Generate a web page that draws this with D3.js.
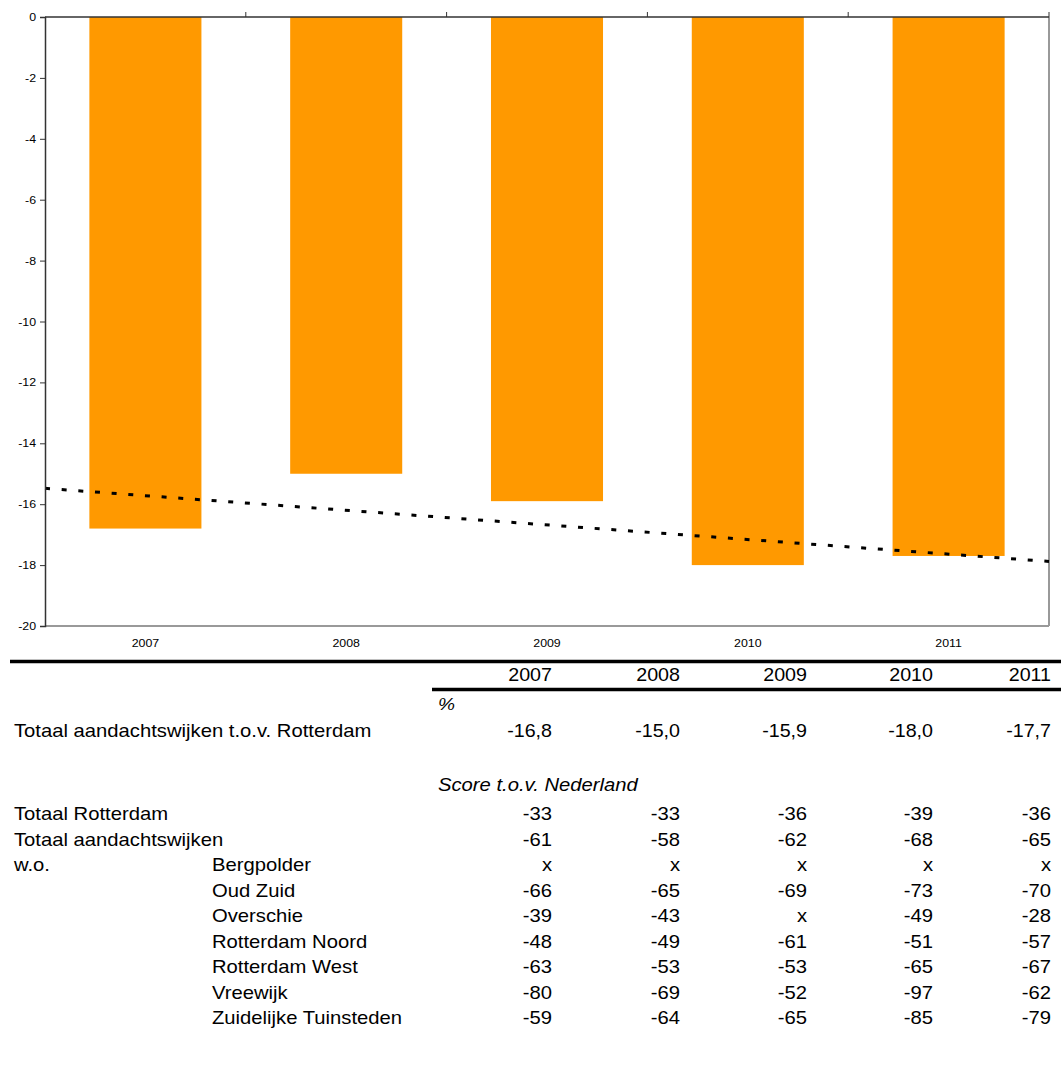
<!DOCTYPE html>
<html><head><meta charset="utf-8">
<script src="https://cdn.jsdelivr.net/npm/d3@7"></script>
<style>body{margin:0;background:#fff}svg{display:block;font-family:"Liberation Sans",Arial,sans-serif}</style>
</head><body>
<svg id="c" width="1061" height="1065"></svg>
<script>
const years = ["2007","2008","2009","2010","2011"];
const barValues = [-16.8, -15.0, -15.9, -18.0, -17.7];
const yTicks = [0,-2,-4,-6,-8,-10,-12,-14,-16,-18,-20];
const pctLabels = ["-16,8","-15,0","-15,9","-18,0","-17,7"];
const rowLabels = ["Totaal Rotterdam","Totaal aandachtswijken","Bergpolder","Oud Zuid","Overschie","Rotterdam Noord","Rotterdam West","Vreewijk","Zuidelijke Tuinsteden"];
const rowIndent = [false,false,true,true,true,true,true,true,true];
const totaalRotterdam = ["-33","-33","-36","-39","-36"];
const totaalAandacht = ["-61","-58","-62","-68","-65"];
const bergpolder = ["x","x","x","x","x"];
const oudZuid = ["-66","-65","-69","-73","-70"];
const overschie = ["-39","-43","x","-49","-28"];
const rdamNoord = ["-48","-49","-61","-51","-57"];
const rdamWest = ["-63","-53","-53","-65","-67"];
const vreewijk = ["-80","-69","-52","-97","-62"];
const zuidTuin = ["-59","-64","-65","-85","-79"];
const scoreRows = [totaalRotterdam,totaalAandacht,bergpolder,oudZuid,overschie,rdamNoord,rdamWest,vreewijk,zuidTuin];

const svg = d3.select("#c");
const L=45,R=1049,T=17,B=626;
const x = d3.scaleBand().domain(years).range([L,R]).paddingInner(0.442).paddingOuter(0.221);
const y = d3.scaleLinear().domain([0,-20]).range([T,B]);
const SX = 1.125;

function txt(g, xx, yy, s, size, anchor, italic){
  return g.append("text").attr("transform",`translate(${xx},${yy}) scale(${SX},1)`)
    .attr("text-anchor",anchor).attr("font-size",size).attr("font-style",italic?"italic":null)
    .attr("fill","#000").text(s);
}

// plot border
svg.append("line").attr("x1",L).attr("x2",R).attr("y1",B).attr("y2",B).attr("stroke","#999").attr("stroke-width",2);
svg.append("line").attr("x1",R).attr("x2",R).attr("y1",T).attr("y2",B).attr("stroke","#999").attr("stroke-width",2);

// bars
svg.selectAll("rect.bar").data(barValues).join("rect").attr("class","bar")
  .attr("x",(d,i)=>x(years[i])).attr("width",x.bandwidth())
  .attr("y",y(0)).attr("height",d=>y(d)-y(0)).attr("fill","#FF9900");

// trend line (linear least squares through bar values)
const n=barValues.length, mx=(n-1)/2, my=d3.mean(barValues);
const slope=d3.sum(barValues,(v,i)=>(i-mx)*(v-my))/d3.sum(barValues,(v,i)=>(i-mx)*(i-mx));
const xi=d3.scaleLinear().domain([-0.5,n-0.5]).range([L,R]);
const tr=[-0.5,n-0.5].map(i=>[xi(i),y(my+slope*(i-mx))]);
svg.append("path").attr("d",d3.line()(tr)).attr("stroke","#000").attr("stroke-width",3)
  .attr("stroke-dasharray","5,11.7").attr("fill","none");

// y axis
const ya = svg.append("g").attr("transform",`translate(${L},0)`)
  .call(d3.axisLeft(y).tickValues(yTicks).tickSize(5).tickPadding(4).tickFormat(d=>String(d)));
ya.select(".domain").attr("stroke","#333").attr("stroke-width",1.5);
ya.selectAll(".tick line").attr("stroke","#333");
ya.selectAll(".tick text").attr("font-size",11).attr("font-family","inherit").attr("fill","#000")
  .attr("transform",`scale(${SX},1)`).attr("x",-9/SX);

// x axis at zero (top) with category separator ticks
svg.append("line").attr("x1",L).attr("x2",R).attr("y1",T).attr("y2",T).attr("stroke","#333").attr("stroke-width",1.5);
const step = x.step();
d3.range(1,years.length+1).forEach(k=>{
  const xx = L + step*k;
  svg.append("line").attr("x1",xx).attr("x2",xx).attr("y1",T-5).attr("y2",T).attr("stroke","#333");
});
years.forEach(yr=>{
  txt(svg, x(yr)+x.bandwidth()/2, 647, yr, 11, "middle");
});

// table
const colRight = [552,680,807,933,1051];
svg.append("line").attr("x1",10).attr("x2",1061).attr("y1",661.5).attr("y2",661.5).attr("stroke","#000").attr("stroke-width",3.5);
svg.append("line").attr("x1",432).attr("x2",1061).attr("y1",689.5).attr("y2",689.5).attr("stroke","#000").attr("stroke-width",3.5);
years.forEach((yr,i)=>txt(svg,colRight[i],681,yr,17.5,"end"));
txt(svg,438,710,"%",17,"start",true);
txt(svg,14,737,"Totaal aandachtswijken t.o.v. Rotterdam",18,"start");
pctLabels.forEach((v,i)=>txt(svg,colRight[i],737,v,17.5,"end"));
txt(svg,438,791,"Score t.o.v. Nederland",18,"start",true);
const rowY0=820, rowStep=25.5;
rowLabels.forEach((lab,r)=>{
  const yy=rowY0+r*rowStep;
  txt(svg, rowIndent[r]?212:14, yy, lab, 18, "start");
  scoreRows[r].forEach((v,i)=>txt(svg,colRight[i],yy,v,18,"end"));
});
txt(svg,14,rowY0+2*rowStep,"w.o.",18,"start");
</script>
</body></html>
